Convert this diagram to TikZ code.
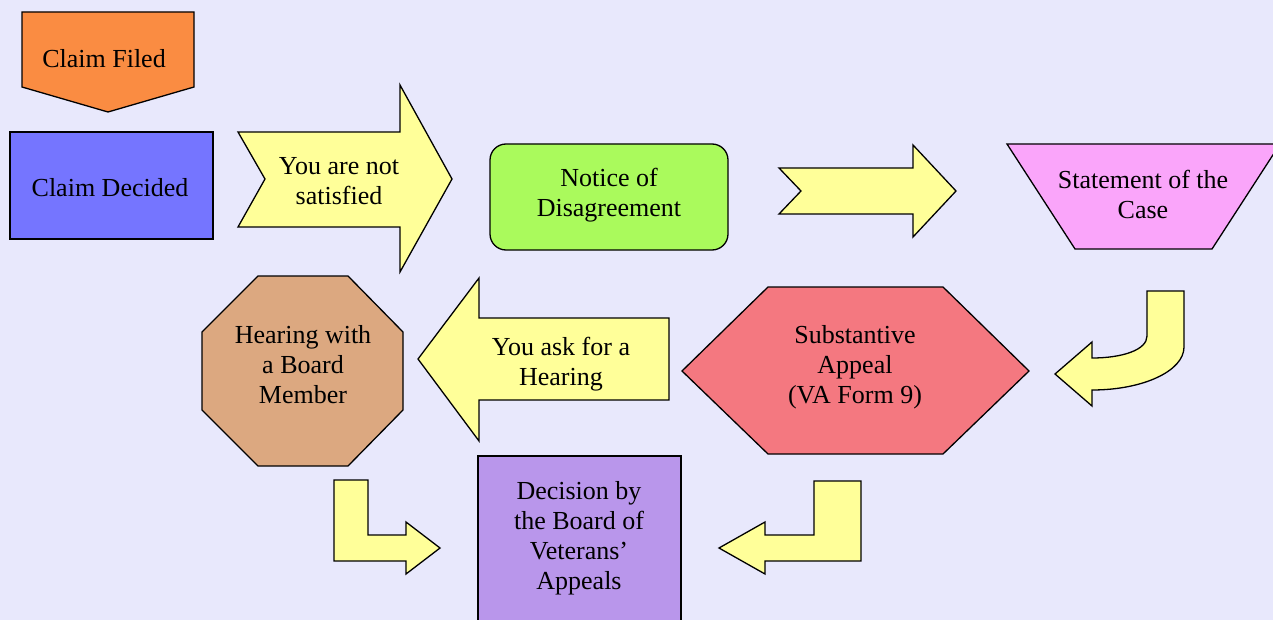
\documentclass[tikz,border=0pt]{standalone}
\usepackage{fontspec}
\setmainfont{Liberation Serif}
\usepackage{xcolor}
\definecolor{panelbg}{RGB}{232,232,252}
\definecolor{filedorange}{RGB}{250,140,66}
\definecolor{decidedblue}{RGB}{117,117,255}
\definecolor{arrowyellow}{RGB}{255,255,153}
\definecolor{noticegreen}{RGB}{170,250,92}
\definecolor{statepink}{RGB}{250,165,250}
\definecolor{appealred}{RGB}{244,120,128}
\definecolor{hearbrown}{RGB}{220,168,128}
\definecolor{boardlilac}{RGB}{185,150,235}

\begin{document}
\begin{tikzpicture}[x=1pt,y=-1pt,
    outline/.style={draw=black,line width=1.3pt,line join=miter},
    thickbox/.style={draw=black,line width=2.6pt},
    blockarrow/.style={outline,fill=arrowyellow},
    lbl/.style={font=\fontsize{26}{30}\selectfont,align=center,inner sep=0pt}]
      \fill[panelbg] (0,0) rectangle (1273,620);
      \useasboundingbox (0,0) rectangle (1273,620);
      % top row
      \path[outline,fill=filedorange] (22,12) -- (194,12) -- (194,87) -- (108,112) -- (22,87) -- cycle;
      \path[thickbox,fill=decidedblue] (10,132) rectangle (213,239);
      \path[blockarrow] (238,132) -- (400,132) -- (400,85) -- (452,179) -- (400,272) -- (400,227) -- (238,227) -- (265,179) -- cycle;
      \path[outline,fill=noticegreen,rounded corners=16pt] (490,144) rectangle (728,250);
      \path[blockarrow] (779,168) -- (913,168) -- (913,145) -- (956,191) -- (913,237) -- (913,214) -- (779,214) -- (801,191) -- cycle;
      \path[outline,fill=statepink] (1007,144) -- (1280,144) -- (1212,249) -- (1075,249) -- cycle;
      % middle row
      \path[blockarrow] (1147,291) -- (1184,291) -- (1184,347)
        .. controls (1184,371) and (1143,390) .. (1092,390)
        -- (1092,406) -- (1055,374) -- (1092,342) -- (1092,358)
        .. controls (1122,358) and (1147,350) .. (1147,336) -- cycle;
      \path[outline,fill=appealred] (682,371) -- (768,287) -- (943,287) -- (1029,371) -- (943,454) -- (768,454) -- cycle;
      \path[blockarrow] (669,318) -- (669,400) -- (479,400) -- (479,441) -- (418,359) -- (479,278) -- (479,318) -- cycle;
      \path[outline,fill=hearbrown] (258,276) -- (348,276) -- (403,332) -- (403,410) -- (348,466) -- (258,466) -- (202,410) -- (202,332) -- cycle;
      % bottom row
      \path[thickbox,fill=boardlilac] (478,456) rectangle (681,640);
      \path[blockarrow] (334,480) -- (368,480) -- (368,535) -- (406,535) -- (406,522) -- (440,548) -- (406,574) -- (406,561) -- (334,561) -- cycle;
      \path[blockarrow] (861,481) -- (814,481) -- (814,535) -- (765,535) -- (765,522) -- (719,548) -- (765,574) -- (765,561) -- (861,561) -- cycle;
      % labels
      \node[lbl] (filed) at (104,59) {Claim Filed};
      \node[lbl] (decided) at (110,188) {Claim Decided};
      \node[lbl] (notsatisfied) at (339,181) {You are not\\satisfied};
      \node[lbl] (notice) at (609,195) {Notice of\\Disagreement};
      \node[lbl] (statement) at (1143,194) {Statement of the\\Case};
      \node[lbl] (substantive) at (855,367) {Substantive\\Appeal\\(VA Form 9)};
      \node[lbl] (askhearing) at (561,364) {You ask for a\\Hearing};
      \node[lbl] (hearing) at (303,365) {Hearing with\\a Board\\Member};
      \node[lbl] (decision) at (579,538) {Decision by\\the Board of\\Veterans’\\Appeals};
    \end{tikzpicture}
\end{document}
